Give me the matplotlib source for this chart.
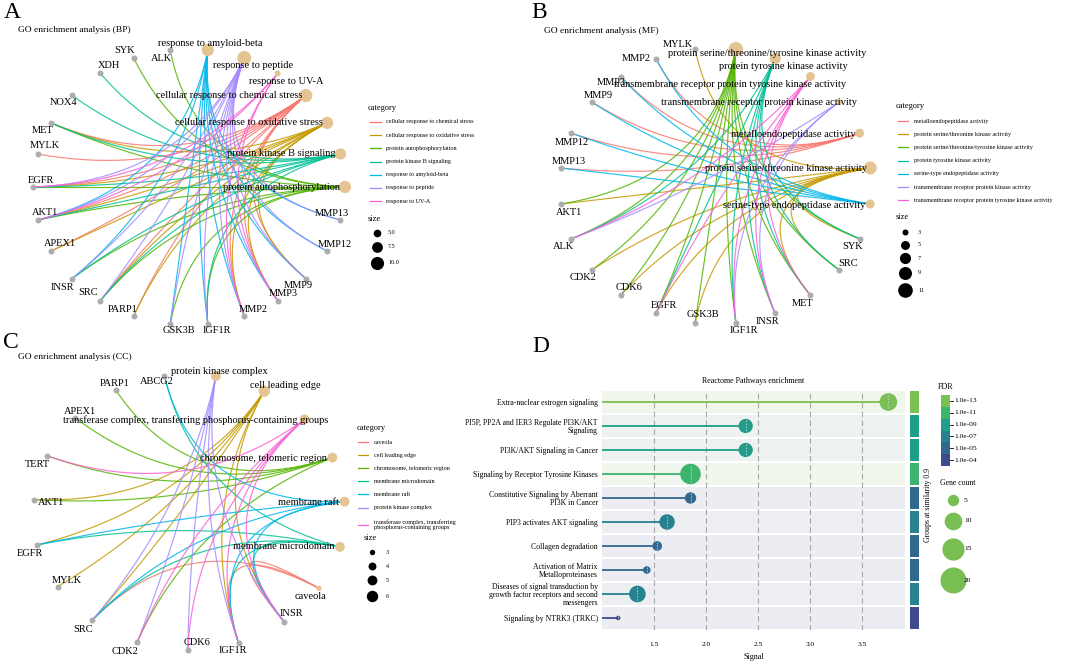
import numpy as np
import matplotlib
matplotlib.use('Agg')
import matplotlib.pyplot as plt
from matplotlib.colors import ListedColormap, BoundaryNorm

plt.rcParams['font.family'] = ['Liberation Serif', 'DejaVu Serif']

# ---------------- data ----------------
# panel A: GO BP gene-concept network (nodes in circular order)
bp_nodes = ['protein autophosphorylation', 'protein kinase B signaling',
            'cellular response to oxidative stress', 'cellular response to chemical stress',
            'response to UV-A', 'response to peptide', 'response to amyloid-beta',
            'ALK', 'SYK', 'XDH', 'NOX4', 'MET', 'MYLK', 'EGFR', 'AKT1', 'APEX1', 'INSR',
            'SRC', 'PARP1', 'GSK3B', 'IGF1R', 'MMP2', 'MMP3', 'MMP9', 'MMP12', 'MMP13']
bp_categories = ['cellular response to chemical stress', 'cellular response to oxidative stress',
                 'protein autophosphorylation', 'protein kinase B signaling',
                 'response to amyloid-beta', 'response to peptide', 'response to UV-A']
bp_edges = {
    'cellular response to chemical stress': ['MET', 'MYLK', 'EGFR', 'AKT1', 'APEX1', 'PARP1',
                                             'MMP2', 'MMP3', 'MMP9', 'SRC'],
    'cellular response to oxidative stress': ['EGFR', 'AKT1', 'APEX1', 'PARP1', 'MMP2', 'MMP3',
                                              'MMP9', 'SRC', 'MET'],
    'protein autophosphorylation': ['SYK', 'ALK', 'MET', 'EGFR', 'AKT1', 'INSR', 'SRC',
                                    'GSK3B', 'IGF1R'],
    'protein kinase B signaling': ['XDH', 'NOX4', 'MET', 'EGFR', 'AKT1', 'INSR', 'SRC', 'IGF1R'],
    'response to amyloid-beta': ['AKT1', 'INSR', 'GSK3B', 'IGF1R', 'MMP2', 'MMP3', 'MMP9',
                                 'MMP12', 'MMP13'],
    'response to peptide': ['EGFR', 'AKT1', 'INSR', 'SRC', 'GSK3B', 'IGF1R', 'MMP2', 'MMP3',
                            'MMP9', 'MMP12', 'MMP13'],
    'response to UV-A': ['AKT1', 'EGFR', 'MMP2', 'MMP3'],
}
bp_size_breaks = [5.0, 7.5, 10.0]

# panel B: GO MF
mf_nodes = ['serine-type endopeptidase activity', 'protein serine/threonine kinase activity',
            'metalloendopeptidase activity', 'transmembrane receptor protein kinase activity',
            'transmembrane receptor protein tyrosine kinase activity',
            'protein tyrosine kinase activity', 'protein serine/threonine/tyrosine kinase activity',
            'MYLK', 'MMP2', 'MMP3', 'MMP9', 'MMP12', 'MMP13', 'AKT1', 'ALK', 'CDK2', 'CDK6',
            'EGFR', 'GSK3B', 'IGF1R', 'INSR', 'MET', 'SRC', 'SYK']
mf_categories = ['metalloendopeptidase activity', 'protein serine/threonine kinase activity',
                 'protein serine/threonine/tyrosine kinase activity',
                 'protein tyrosine kinase activity', 'serine-type endopeptidase activity',
                 'transmembrane receptor protein kinase activity',
                 'transmembrane receptor protein tyrosine kinase activity']
mf_edges = {
    'metalloendopeptidase activity': ['MMP2', 'MMP3', 'MMP9', 'MMP12', 'MMP13'],
    'protein serine/threonine kinase activity': ['MYLK', 'AKT1', 'CDK2', 'CDK6', 'EGFR',
                                                 'GSK3B', 'SYK', 'SRC', 'MET'],
    'protein serine/threonine/tyrosine kinase activity': ['AKT1', 'ALK', 'CDK2', 'CDK6', 'EGFR',
                                                          'GSK3B', 'IGF1R', 'INSR', 'MET',
                                                          'SRC', 'SYK'],
    'protein tyrosine kinase activity': ['ALK', 'EGFR', 'IGF1R', 'INSR', 'MET', 'SRC', 'SYK'],
    'serine-type endopeptidase activity': ['MMP2', 'MMP3', 'MMP9', 'MMP12', 'MMP13'],
    'transmembrane receptor protein kinase activity': ['ALK', 'IGF1R', 'INSR'],
    'transmembrane receptor protein tyrosine kinase activity': ['ALK', 'EGFR', 'IGF1R',
                                                                'INSR', 'MET'],
}
mf_size_breaks = [3, 5, 7, 9, 11]

# panel C: GO CC
cc_nodes = ['membrane raft', 'chromosome, telomeric region',
            'transferase complex, transferring phosphorus-containing groups',
            'cell leading edge', 'protein kinase complex', 'ABCG2', 'PARP1', 'APEX1', 'TERT',
            'AKT1', 'EGFR', 'MYLK', 'SRC', 'CDK2', 'CDK6', 'IGF1R', 'INSR', 'caveola',
            'membrane microdomain']
cc_categories = ['caveola', 'cell leading edge', 'chromosome, telomeric region',
                 'membrane microdomain', 'membrane raft', 'protein kinase complex',
                 'transferase complex, transferring phosphorus-containing groups']
cc_legend_text = ['caveola', 'cell leading edge', 'chromosome, telomeric region',
                  'membrane microdomain', 'membrane raft', 'protein kinase complex',
                  'transferase complex, transferring\nphosphorus-containing groups']
cc_edges = {
    'caveola': ['SRC', 'IGF1R', 'INSR'],
    'cell leading edge': ['AKT1', 'MYLK', 'SRC', 'IGF1R', 'INSR', 'EGFR'],
    'chromosome, telomeric region': ['PARP1', 'APEX1', 'TERT', 'AKT1', 'CDK2'],
    'membrane microdomain': ['ABCG2', 'EGFR', 'SRC', 'IGF1R', 'INSR'],
    'membrane raft': ['ABCG2', 'EGFR', 'SRC', 'IGF1R', 'INSR'],
    'protein kinase complex': ['CDK2', 'CDK6', 'SRC', 'IGF1R', 'INSR'],
    'transferase complex, transferring phosphorus-containing groups': ['TERT', 'CDK2', 'CDK6',
                                                                       'IGF1R', 'INSR'],
}
cc_size_breaks = [3, 4, 5, 6]

# panel D: Reactome lollipop
reactome_terms = ['Extra-nuclear estrogen signaling',
                  'PI5P, PP2A and IER3 Regulate PI3K/AKT\nSignaling',
                  'PI3K/AKT Signaling in Cancer',
                  'Signaling by Receptor Tyrosine Kinases',
                  'Constitutive Signaling by Aberrant\nPI3K in Cancer',
                  'PIP3 activates AKT signaling',
                  'Collagen degradation',
                  'Activation of Matrix\nMetalloproteinases',
                  'Diseases of signal transduction by\ngrowth factor receptors and second\nmessengers',
                  'Signaling by NTRK3 (TRKC)']
reactome_signal = [3.75, 2.38, 2.38, 1.85, 1.85, 1.625, 1.53, 1.43, 1.34, 1.155]
reactome_fdr = [1e-13, 1e-9, 1e-9, 1e-11, 1e-5, 1e-7, 1e-5, 1e-5, 1e-7, 1e-4]
reactome_count = [10, 7, 7, 13, 5, 8, 4, 3, 9, 2]
fdr_ticks = ['1.0e-13', '1.0e-11', '1.0e-09', '1.0e-07', '1.0e-05', '1.0e-04']
count_breaks = [5, 10, 15, 20]

# ---------------- style ----------------
W, H = 1065, 665
hue7 = ['#F8766D', '#C49A00', '#53B400', '#00C094', '#00B6EB', '#A58AFF', '#FB61D7']
cat_fill = '#E5C494'
gene_fill = '#ADADAD'
fdr_colors = ['#7AC053', '#3DB46D', '#1F9E89', '#26828E', '#31688E', '#3E4A89']
band_colors = ['#F1F6EC', '#EDF2F1', '#EDF2F1', '#F1F6EC', '#ECECF3',
               '#ECEEF2', '#ECECF3', '#ECECF3', '#ECEEF2', '#ECECF3']

# label offsets (dx, dy, ha) in pixels
bp_lab = {
    'protein autophosphorylation': (-5, 0, 'right'), 'protein kinase B signaling': (-5, 0, 'right'),
    'cellular response to oxidative stress': (-4, 0, 'right'),
    'cellular response to chemical stress': (-3, 0, 'right'),
    'response to UV-A': (9, 8, 'center'), 'response to peptide': (9, 8, 'center'),
    'response to amyloid-beta': (2, -7, 'center'),
    'SYK': (-9, -7), 'ALK': (-9, 8), 'XDH': (9, -8), 'NOX4': (-9, 7), 'MET': (-8, 8),
    'MYLK': (7, -8), 'EGFR': (8, -7), 'AKT1': (7, -8), 'APEX1': (9, -8), 'INSR': (-10, 9),
    'SRC': (-12, -8), 'PARP1': (-11, -7), 'GSK3B': (9, 7), 'IGF1R': (9, 7), 'MMP2': (9, -7),
    'MMP3': (6, -7), 'MMP9': (-7, 7), 'MMP12': (8, -7), 'MMP13': (-9, -7),
}
mf_lab = {
    'serine-type endopeptidase activity': (-5, 1, 'right'),
    'protein serine/threonine kinase activity': (-3, 1, 'right'),
    'metalloendopeptidase activity': (-4, 1, 'right'),
    'transmembrane receptor protein kinase activity': (18, 1, 'right'),
    'transmembrane receptor protein tyrosine kinase activity': (36, 8, 'right'),
    'protein tyrosine kinase activity': (8, 8, 'center'),
    'protein serine/threonine/tyrosine kinase activity': (31, 4, 'center'),
    'MYLK': (-17, -5), 'MMP2': (-20, 0), 'MMP3': (-9, 6), 'MMP9': (7, -6), 'MMP12': (0, 9),
    'MMP13': (8, -6), 'AKT1': (8, 8), 'ALK': (-8, 8), 'CDK2': (-9, 7), 'CDK6': (9, -8),
    'EGFR': (8, -8), 'GSK3B': (8, -8), 'IGF1R': (8, 8), 'INSR': (-8, 8), 'MET': (-8, 8),
    'SRC': (9, -7), 'SYK': (-7, 8),
}
cc_lab = {
    'membrane raft': (-6, 1, 'right'), 'chromosome, telomeric region': (-5, 1, 'right'),
    'transferase complex, transferring phosphorus-containing groups': (24, 1, 'right'),
    'cell leading edge': (21, -6, 'center'), 'protein kinase complex': (4, -5, 'center'),
    'caveola': (-8, 8, 'center'), 'membrane microdomain': (-5, 0, 'right'),
    'PARP1': (-1, -7), 'ABCG2': (-8, 6), 'APEX1': (5, -6), 'TERT': (-9, 9), 'AKT1': (17, 3),
    'EGFR': (-8, 9), 'MYLK': (9, -6), 'SRC': (-9, 9), 'CDK2': (-12, 9), 'CDK6': (9, -7),
    'IGF1R': (-6, 8), 'INSR': (8, -8),
}


def circle_layout(nodes, cx, cy, rx, ry, start):
    ang = np.deg2rad(start) + 2 * np.pi * np.arange(len(nodes)) / len(nodes)
    return {n: (cx + rx * np.cos(a), cy - ry * np.sin(a)) for n, a in zip(nodes, ang)}


def arc(p0, p2, c, f=0.9, n=60):
    # quadratic curve pulled toward the circle centre
    p0, p2, c = np.asarray(p0), np.asarray(p2), np.asarray(c)
    mid = (p0 + p2) / 2
    ctrl = mid + f * (c - mid)
    t = np.linspace(0, 1, n)[:, None]
    pts = (1 - t) ** 2 * p0 + 2 * (1 - t) * t * ctrl + t ** 2 * p2
    return pts[:, 0], pts[:, 1]


def r2s(r):
    # pixel radius -> scatter size (points^2) at 100 dpi
    return (2 * r * 0.72) ** 2


fig = plt.figure(figsize=(W / 100, H / 100), dpi=100)
ax = fig.add_axes([0, 0, 1, 1])
ax.set_xlim(0, W)
ax.set_ylim(H, 0)
ax.axis('off')


def draw_network(nodes, categories, edges, labels, centre, start, rlim, leg, breaks,
                 legend_text=None):
    cx, cy = centre
    pos = circle_layout(nodes, cx, cy, 156, 138, start)
    colors = dict(zip(categories, hue7))
    for cat in categories:
        for g in edges[cat]:
            xs, ys = arc(pos[cat], pos[g], centre)
            ax.plot(xs, ys, color=colors[cat], lw=0.85, alpha=0.85, zorder=1)
    counts = {c: len(edges[c]) for c in categories}
    lo, hi = min(counts.values()), max(counts.values())
    rlo, rhi = rlim

    def rad(n):
        return np.sqrt(max(rlo ** 2 + (rhi ** 2 - rlo ** 2) * (n - lo) / (hi - lo), 1))

    genes = [n for n in nodes if n not in categories]
    ax.scatter([pos[g][0] for g in genes], [pos[g][1] for g in genes], s=r2s(3.0),
               color=gene_fill, lw=0, zorder=2)
    ax.scatter([pos[c][0] for c in categories], [pos[c][1] for c in categories],
               s=[r2s(rad(counts[c])) for c in categories], color=cat_fill, lw=0, zorder=2)
    for n in nodes:
        spec = labels[n]
        ha = spec[2] if len(spec) > 2 else 'center'
        ax.text(pos[n][0] + spec[0], pos[n][1] + spec[1], n, fontsize=7.5, ha=ha,
                va='center', zorder=3)
    # legend
    tx, ty = leg['title']
    ax.text(tx, ty, 'category', fontsize=6, va='center', ha='left')
    texts = legend_text if legend_text else categories
    for i, (t, col) in enumerate(zip(texts, hue7)):
        y = leg['y0'] + i * leg['dy']
        if '\n' in t:
            y += 4
        ax.plot(leg['line'], [y, y], color=col, lw=0.9)
        ax.text(leg['text_x'], y, t, fontsize=4.4, va='center', ha='left', linespacing=1.1)
    sx, sy = leg['size_title']
    ax.text(sx, sy, 'size', fontsize=6, va='center', ha='left')
    for b, y in zip(breaks, leg['circle_y']):
        ax.scatter([leg['circle_x']], [y], s=r2s(rad(b)), color='black', lw=0)
        ax.text(leg['label_x'], y, str(b), fontsize=4.4, va='center', ha='left')


draw_network(bp_nodes, bp_categories, bp_edges, bp_lab, (189, 187), 0.0, (3.0, 7.0),
             dict(title=(368, 108), line=[370, 381], text_x=386, y0=122, dy=13.2,
                  size_title=(368, 219), circle_x=377, circle_y=[233, 247, 263], label_x=388),
             bp_size_breaks)
draw_network(mf_nodes, mf_categories, mf_edges, mf_lab, (715.5, 186), -7.5, (3.0, 7.3),
             dict(title=(896, 106), line=[898, 908], text_x=914, y0=121, dy=13.2,
                  size_title=(896, 217), circle_x=905, circle_y=[232, 245, 258, 273, 290],
                  label_x=918),
             mf_size_breaks)
draw_network(cc_nodes, cc_categories, cc_edges, cc_lab, (189, 512), 4.3, (2.7, 5.7),
             dict(title=(357, 428), line=[358, 368], text_x=374, y0=442, dy=13.1,
                  size_title=(364, 538), circle_x=372, circle_y=[552, 566, 580, 596],
                  label_x=386),
             cc_size_breaks, legend_text=cc_legend_text)

# panel titles and letters
for letter, xy in zip('ABCD', [(4, 13), (531, 13), (3, 343), (532, 346)]):
    ax.text(xy[0], xy[1], letter, fontsize=17, va='center', ha='left')
ax.text(18, 30, 'GO enrichment analysis (BP)', fontsize=6.8, va='center')
ax.text(544, 31, 'GO enrichment analysis (MF)', fontsize=6.8, va='center')
ax.text(18, 357, 'GO enrichment analysis (CC)', fontsize=6.8, va='center')

# ---------------- panel D ----------------
cmap = ListedColormap(fdr_colors)
norm = BoundaryNorm([-14, -12, -10, -8, -6, -4.5, -3], cmap.N)
logfdr = np.log10(reactome_fdr)
row_colors = cmap(norm(logfdr))
rows = np.arange(len(reactome_terms))
xmin, xmax = 1.0, 3.91

axd = fig.add_axes([602 / W, 1 - 630 / H, 303 / W, 240 / H])
axd.set_xlim(xmin, xmax)
axd.set_ylim(len(rows) - 0.5, -0.5)
axd.barh(rows, xmax - xmin, left=xmin, height=0.91, color=band_colors, zorder=0)
for xv in [1.5, 2.0, 2.5, 3.0, 3.5]:
    axd.axvline(xv, color='#A8A8A8', lw=0.8, ls=(0, (5, 3)), zorder=1)
axd.hlines(rows, xmin, reactome_signal, colors=row_colors, lw=1.3, zorder=2)
dot_r = np.sqrt(9.1 * np.array(reactome_count) - 13)
axd.scatter(reactome_signal, rows, s=r2s(dot_r), c=logfdr, cmap=cmap, norm=norm, lw=0,
            zorder=3)
axd.vlines(reactome_signal, rows - dot_r / 24 * 0.8, rows + dot_r / 24 * 0.8,
           colors='#C8C8C8', lw=0.6, ls=(0, (2, 1.5)), zorder=4)
axd.set_yticks(rows)
axd.set_yticklabels(reactome_terms, fontsize=5.6, linespacing=0.95)
axd.set_xticks([1.5, 2.0, 2.5, 3.0, 3.5])
axd.set_xticklabels(['1.5', '2.0', '2.5', '3.0', '3.5'], fontsize=5.4)
axd.tick_params(length=0, pad=3)
axd.tick_params(axis='x', pad=9)
axd.set_xlabel('Signal', fontsize=5.8, labelpad=4)
axd.set_title('Reactome Pathways enrichment', fontsize=5.8, pad=5)
for s in axd.spines.values():
    s.set_visible(False)

# similarity group bar
axg = fig.add_axes([910 / W, 1 - 630 / H, 9 / W, 240 / H])
axg.set_xlim(0, 1)
axg.set_ylim(len(rows) - 0.5, -0.5)
axg.barh(rows, 1, left=0, height=0.91, color=row_colors)
axg.axis('off')
ax.text(928, 505, 'Groups at similarity 0.9', fontsize=5.6, rotation=90, va='center',
        ha='center')

# FDR legend
ax.text(938, 387, 'FDR', fontsize=5.8, va='center', ha='left')
blk = (466 - 395) / len(fdr_ticks)
for i, lab in enumerate(fdr_ticks):
    y0 = 395 + i * blk
    ax.add_patch(plt.Rectangle((941, y0), 9, blk, color=fdr_colors[i], lw=0))
    yc = y0 + blk / 2
    ax.plot([950, 952.5], [yc, yc], color='black', lw=0.6)
    ax.text(954, yc, lab, fontsize=5.4, va='center', ha='left')

# gene count legend
ax.text(940, 483, 'Gene count', fontsize=5.6, va='center', ha='left')
for b, y in zip(count_breaks, [500, 521, 549, 580]):
    ax.scatter([953], [y], s=r2s(np.sqrt(9.1 * b - 13)), color='#78BE52', lw=0, zorder=2)
    ax.text(964, y, str(b), fontsize=5.4, va='center', ha='left', zorder=3)

fig.savefig('out.png', dpi=100)
